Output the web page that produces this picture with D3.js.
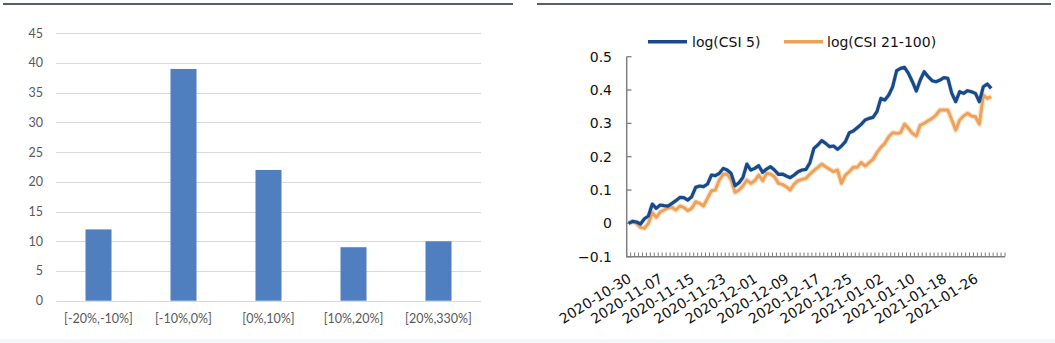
<!DOCTYPE html>
<html>
<head>
<meta charset="utf-8">
<script src="https://cdn.jsdelivr.net/npm/d3@7"></script>
<style>
  html, body { margin: 0; padding: 0; background: #fff; }
  svg { display: block; }
</style>
</head>
<body>
<svg id="chart" width="1055" height="343"></svg>
<script>
// ---------- Left chart data ----------
const barCategories = ["[-20%,-10%]", "[-10%,0%]", "[0%,10%]", "[10%,20%]", "[20%,330%]"];
const barValues = [12, 39, 22, 9, 10];
const barTicks = [0, 5, 10, 15, 20, 25, 30, 35, 40, 45];

// ---------- Right chart data ----------
const lineStart = new Date(2020, 9, 30);
const lineEnd = new Date(2021, 1, 3); // exclusive
const lineTickLabels = ["2020-10-30", "2020-11-07", "2020-11-15", "2020-11-23", "2020-12-01", "2020-12-09",
  "2020-12-17", "2020-12-25", "2021-01-02", "2021-01-10", "2021-01-18", "2021-01-26"];
const lineYTicks = [-0.1, 0, 0.1, 0.2, 0.3, 0.4, 0.5];
const seriesNames = ["log(CSI 5)", "log(CSI 21-100)"];
const csi5 = [0.0, 0.006, 0.004, -0.002, 0.014, 0.022, 0.058, 0.045, 0.055, 0.053,
  0.052, 0.06, 0.068, 0.078, 0.077, 0.07, 0.08, 0.108, 0.112, 0.11,
  0.118, 0.145, 0.143, 0.15, 0.165, 0.16, 0.15, 0.113, 0.122, 0.138,
  0.178, 0.16, 0.165, 0.173, 0.153, 0.163, 0.17, 0.16, 0.147, 0.148,
  0.142, 0.137, 0.145, 0.155, 0.16, 0.162, 0.182, 0.225, 0.235, 0.248,
  0.24, 0.23, 0.232, 0.222, 0.232, 0.245, 0.272, 0.277, 0.287, 0.297,
  0.31, 0.315, 0.318, 0.335, 0.375, 0.37, 0.385, 0.41, 0.458, 0.465,
  0.468, 0.45, 0.425, 0.397, 0.43, 0.455, 0.44, 0.428, 0.425, 0.43,
  0.437, 0.435, 0.39, 0.365, 0.395, 0.39, 0.398, 0.395, 0.39, 0.365,
  0.41, 0.418, 0.405];
const csi21 = [0.0, 0.005, 0.0, -0.012, -0.015, 0.0, 0.032, 0.018, 0.034, 0.04,
  0.046, 0.048, 0.04, 0.052, 0.048, 0.038, 0.045, 0.065, 0.06, 0.052,
  0.075, 0.098, 0.1, 0.13, 0.147, 0.148, 0.13, 0.093, 0.1, 0.112,
  0.13, 0.12, 0.128, 0.145, 0.128, 0.15, 0.148, 0.14, 0.12, 0.117,
  0.11, 0.1, 0.118, 0.128, 0.132, 0.135, 0.148, 0.158, 0.168, 0.178,
  0.17, 0.162, 0.155, 0.16, 0.12, 0.145, 0.155, 0.168, 0.168, 0.183,
  0.172, 0.182, 0.192, 0.212, 0.228, 0.24, 0.26, 0.272, 0.27, 0.272,
  0.298, 0.285, 0.27, 0.262, 0.295, 0.3, 0.308, 0.315, 0.325, 0.34,
  0.34, 0.34, 0.31, 0.28, 0.31, 0.322, 0.33, 0.322, 0.32, 0.298,
  0.385, 0.375, 0.38];

const svg = d3.select("#chart");

// Top rules and bottom strip
svg.append("line").attr("x1", 3).attr("x2", 513).attr("y1", 4).attr("y2", 4)
  .attr("stroke", "#1d2b3a").attr("stroke-width", 1.5);
svg.append("line").attr("x1", 537).attr("x2", 1051).attr("y1", 4).attr("y2", 4)
  .attr("stroke", "#1d2b3a").attr("stroke-width", 1.5);
svg.append("rect").attr("x", 0).attr("y", 339).attr("width", 1055).attr("height", 4)
  .attr("fill", "#f2f7fa");

// ---------- Left bar chart ----------
const bx = d3.scaleBand().domain(barCategories).range([56, 481])
  .paddingInner(0.694).paddingOuter(0.347);
const by = d3.scaleLinear().domain([0, 45]).range([300.7, 33.3]);

const left = svg.append("g").attr("font-family", "Lato, 'Open Sans', sans-serif");

left.append("g").selectAll("line").data(barTicks).join("line")
  .attr("x1", 56).attr("x2", 481)
  .attr("y1", d => Math.round(by(d)) + 0.5).attr("y2", d => Math.round(by(d)) + 0.5)
  .attr("stroke", "#d9d9d9").attr("stroke-width", 1);

left.append("g").selectAll("text").data(barTicks).join("text")
  .attr("x", 43).attr("y", d => by(d)).attr("dy", "0.35em")
  .attr("text-anchor", "end").attr("font-size", 12.5).attr("fill", "#595959")
  .text(d => d);

left.append("g").selectAll("rect").data(barValues).join("rect")
  .attr("x", (d, i) => bx(barCategories[i]))
  .attr("width", bx.bandwidth())
  .attr("y", d => by(d))
  .attr("height", d => by(0) - by(d))
  .attr("fill", "#4f7fbe");

left.append("g").selectAll("text").data(barCategories).join("text")
  .attr("x", d => bx(d) + bx.bandwidth() / 2).attr("y", 319).attr("dy", "0.35em")
  .attr("text-anchor", "middle").attr("font-size", 12.5).attr("fill", "#595959")
  .text(d => d);

// ---------- Right line chart ----------
const dates = d3.timeDay.range(lineStart, lineEnd);
const fmt = d3.timeFormat("%Y-%m-%d");
const lx = d3.scaleBand().domain(dates.map(fmt)).range([626.7, 1005]);
const ly = d3.scaleLinear().domain([-0.1, 0.5]).range([256.7, 56.7]);

const right = svg.append("g").attr("font-family", "'DejaVu Sans', Verdana, sans-serif");

// y ticks labels
right.append("g").selectAll("text").data(lineYTicks).join("text")
  .attr("x", 612).attr("y", d => ly(d)).attr("dy", "0.36em")
  .attr("text-anchor", "end").attr("font-size", 14).attr("fill", "#111")
  .text(d => d === 0 ? "0" : d3.format(".1f")(d));

// axes lines
const axisColor = "#7f7f7f";
right.append("line").attr("x1", 626.7).attr("x2", 626.7).attr("y1", 56.7).attr("y2", 256.7)
  .attr("stroke", axisColor).attr("stroke-width", 1.5);
right.append("line").attr("x1", 626).attr("x2", 1005).attr("y1", 256.7).attr("y2", 256.7)
  .attr("stroke", axisColor).attr("stroke-width", 1.5);
// y ticks (inside)
right.append("g").selectAll("line").data(lineYTicks).join("line")
  .attr("x1", 626.7).attr("x2", 631.5)
  .attr("y1", d => ly(d)).attr("y2", d => ly(d))
  .attr("stroke", axisColor).attr("stroke-width", 1.3);
// x ticks at category boundaries (inside)
const boundaries = dates.map(d => lx(fmt(d))).concat([1005]);
right.append("g").selectAll("line").data(boundaries).join("line")
  .attr("x1", d => d).attr("x2", d => d)
  .attr("y1", 256.7).attr("y2", 252.5)
  .attr("stroke", axisColor).attr("stroke-width", 1);

// x labels
right.append("g").selectAll("text").data(lineTickLabels).join("text")
  .attr("transform", d => `translate(${lx(d) + lx.bandwidth() / 2 + 1},${277}) rotate(-32)`)
  .attr("text-anchor", "end").attr("dy", "0.35em")
  .attr("font-size", 14).attr("fill", "#111")
  .text(d => d);

const cx = i => lx(fmt(dates[i])) + lx.bandwidth() / 2;
const line = d3.line().x((d, i) => cx(i)).y(d => ly(d)).curve(d3.curveLinear);

right.append("path").datum(csi21).attr("d", line)
  .attr("fill", "none").attr("stroke", "#f6c89a").attr("stroke-width", 5.5)
  .attr("stroke-opacity", 0.5).attr("stroke-linejoin", "round");
right.append("path").datum(csi21).attr("d", line)
  .attr("fill", "none").attr("stroke", "#eda159").attr("stroke-width", 3)
  .attr("stroke-linejoin", "round");
right.append("path").datum(csi5).attr("d", line)
  .attr("fill", "none").attr("stroke", "#8aa6c8").attr("stroke-width", 4.5)
  .attr("stroke-opacity", 0.35).attr("stroke-linejoin", "round");
right.append("path").datum(csi5).attr("d", line)
  .attr("fill", "none").attr("stroke", "#17498b").attr("stroke-width", 3.2)
  .attr("stroke-linejoin", "round");

// legend
const legend = [
  { name: seriesNames[0], color: "#17498b", x1: 648, x2: 687, tx: 692 },
  { name: seriesNames[1], color: "#eda159", x1: 784, x2: 823, tx: 827 }
];
const lg = right.append("g");
lg.selectAll("line").data(legend).join("line")
  .attr("x1", d => d.x1).attr("x2", d => d.x2).attr("y1", 41.7).attr("y2", 41.7)
  .attr("stroke", d => d.color).attr("stroke-width", 3.5);
lg.selectAll("text").data(legend).join("text")
  .attr("x", d => d.tx).attr("y", 41.7).attr("dy", "0.36em")
  .attr("font-size", 14).attr("fill", "#111")
  .text(d => d.name);
</script>
</body>
</html>
